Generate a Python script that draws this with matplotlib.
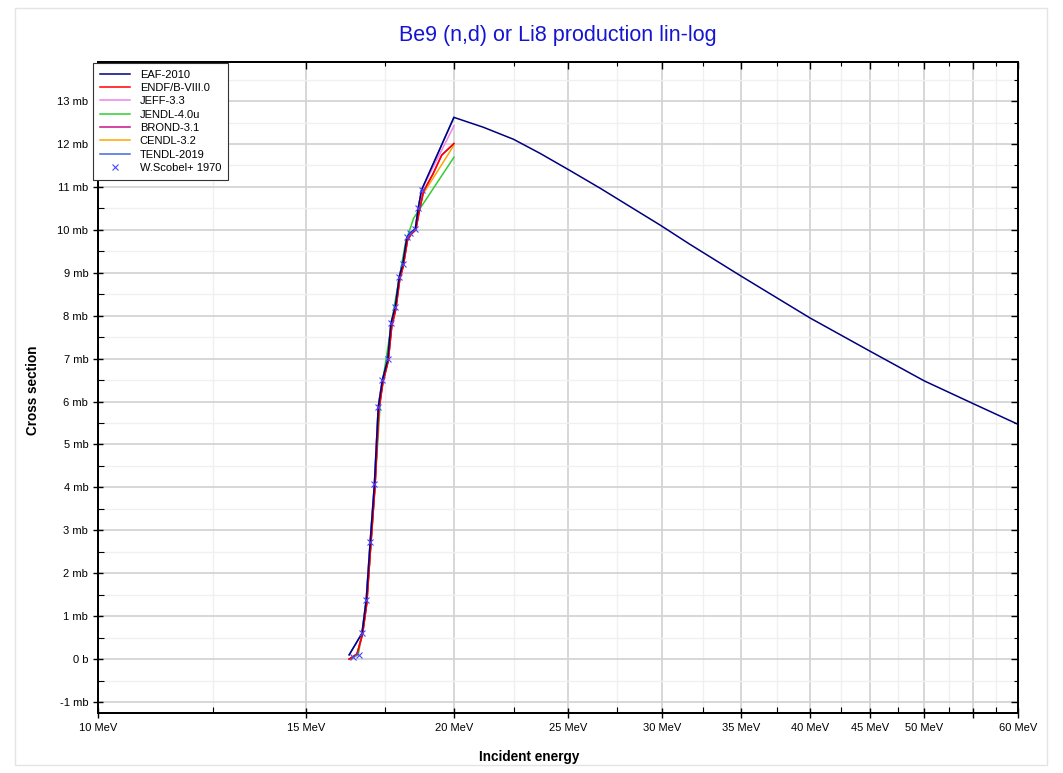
import numpy as np
import matplotlib
matplotlib.use('Agg')
import matplotlib.pyplot as plt
from matplotlib.ticker import FixedLocator, FuncFormatter, MultipleLocator, NullFormatter
from matplotlib.patches import Rectangle

plt.rcParams['font.family'] = ['Liberation Sans', 'DejaVu Sans']

# ---- data (MeV, mb) ----
eaf_e = [16.31, 16.72, 16.86, 16.99, 17.13, 17.26, 17.40, 17.58, 17.69, 17.84, 17.98, 18.10,
         18.25, 18.37, 18.55, 18.66, 18.78, 20.0, 21.18, 22.46, 23.66, 25.08, 26.59, 28.19,
         29.89, 31.64, 35.0, 40.0, 45.0, 50.0, 55.0, 60.0]
eaf_xs = [0.10, 0.60, 1.38, 2.73, 4.07, 5.88, 6.51, 6.98, 7.82, 8.21, 8.91, 9.20,
          9.83, 9.93, 10.02, 10.52, 10.93, 12.62, 12.39, 12.11, 11.78, 11.38, 10.97, 10.54,
          10.11, 9.67, 8.92, 7.95, 7.17, 6.48, 5.95, 5.47]

endf_e = [16.31, 16.56, 16.74, 16.88, 17.01, 17.15, 17.28, 17.42, 17.60, 17.72, 17.86, 18.00,
          18.12, 18.27, 18.40, 18.57, 18.70, 18.85, 19.20, 19.53, 20.0]
endf_xs = [0.0, 0.12, 0.58, 1.30, 2.65, 4.00, 5.80, 6.45, 6.95, 7.75, 8.15, 8.85,
           9.15, 9.75, 9.90, 10.00, 10.45, 10.90, 11.30, 11.74, 12.01]

jeff_e = [16.31, 16.56, 16.72, 16.86, 16.99, 17.13, 17.26, 17.40, 17.58, 17.69, 17.84, 17.98,
          18.10, 18.25, 18.37, 18.55, 18.66, 18.78, 20.0]
jeff_xs = [0.0, 0.10, 0.60, 1.38, 2.73, 4.07, 5.88, 6.51, 6.98, 7.82, 8.21, 8.91,
           9.20, 9.83, 9.93, 10.02, 10.52, 10.93, 12.42]

jendl_e = [16.31, 16.60, 16.75, 16.90, 17.05, 17.20, 17.35, 17.55, 17.80, 18.00, 18.20, 18.49, 20.0]
jendl_xs = [0.0, 0.10, 0.70, 1.60, 3.00, 4.60, 6.20, 7.10, 8.20, 8.95, 9.70, 10.27, 11.69]

brond_e = endf_e
brond_xs = endf_xs

cendl_e = [16.31, 16.56, 16.74, 16.88, 17.01, 17.15, 17.28, 17.42, 17.60, 17.72, 17.86, 18.00,
           18.12, 18.27, 18.40, 18.57, 18.70, 18.85, 20.0]
cendl_xs = [0.0, 0.12, 0.58, 1.30, 2.65, 4.00, 5.80, 6.45, 6.95, 7.75, 8.15, 8.85,
            9.15, 9.75, 9.90, 10.00, 10.45, 10.85, 11.97]

tendl_e = eaf_e[:18]
tendl_xs = eaf_xs[:18]

exp_e = [16.44, 16.61, 16.72, 16.86, 16.99, 17.13, 17.26, 17.40, 17.58, 17.69, 17.84, 17.98,
         18.10, 18.25, 18.37, 18.55, 18.66, 18.78]
exp_xs = [0.04, 0.10, 0.60, 1.38, 2.73, 4.07, 5.88, 6.51, 6.98, 7.82, 8.21, 8.91,
          9.20, 9.83, 9.93, 10.02, 10.52, 10.93]

x_major = [10, 15, 20, 25, 30, 35, 40, 45, 50, 55, 60]
x_labels = ['10 MeV', '15 MeV', '20 MeV', '25 MeV', '30 MeV', '35 MeV', '40 MeV',
            '45 MeV', '50 MeV', '', '60 MeV']
x_minor = [12.5, 17.5, 22.5, 27.5, 32.5, 37.5, 42.5, 47.5, 52.5, 57.5]

fig = plt.figure(figsize=(10.63, 7.73), dpi=100)
fig.patches.append(Rectangle((15 / 1063, 8 / 773), 1032 / 1063, 757 / 773,
                             transform=fig.transFigure, fill=False,
                             edgecolor='#e4e4e4', lw=1))
ax = fig.add_axes([98 / 1063, 60 / 773, 920 / 1063, 651 / 773])

lw = 1.1
ax.plot(tendl_e, tendl_xs, color='#4169e1', lw=lw, label='TENDL-2019', zorder=2)
ax.plot(jeff_e, jeff_xs, color='#ee82ee', lw=lw, label='JEFF-3.3', zorder=2)
ax.plot(jendl_e, jendl_xs, color='#33cc33', lw=lw, label='JENDL-4.0u', zorder=2)
ax.plot(cendl_e, cendl_xs, color='#ffa500', lw=lw, label='CENDL-3.2', zorder=2)
ax.plot(brond_e, brond_xs, color='#c71585', lw=lw, label='BROND-3.1', zorder=2)
ax.plot(endf_e, endf_xs, color='#ff0000', lw=lw, label='ENDF/B-VIII.0', zorder=3)
ax.plot(eaf_e, eaf_xs, color='#00007f', lw=lw, label='EAF-2010', zorder=4)
ax.plot(exp_e, exp_xs, ls='none', marker='x', ms=4.5, mew=0.8, color='#4848ff',
        label='W.Scobel+ 1970', zorder=5)

ax.set_xscale('log')
ax.set_xlim(10, 60)
ax.set_ylim(-1.255, 13.91)

ax.xaxis.set_major_locator(FixedLocator(x_major))
ax.xaxis.set_minor_locator(FixedLocator(x_minor))
ax.set_xticklabels(x_labels)
ax.xaxis.set_minor_formatter(NullFormatter())

ax.yaxis.set_major_locator(MultipleLocator(1))
ax.yaxis.set_minor_locator(MultipleLocator(0.5))
ax.yaxis.set_major_formatter(FuncFormatter(lambda v, p: '0 b' if abs(v) < 1e-9 else '%d mb' % round(v)))

ax.grid(which='major', color='#d4d4d4', lw=1.3)
ax.grid(which='minor', color='#f0f0f0', lw=1.0)
ax.set_axisbelow(True)

ax.tick_params(which='major', direction='inout', length=7, width=1, labelsize=8)
ax.tick_params(which='minor', direction='in', length=4, width=0.8)
for s in ax.spines.values():
    s.set_linewidth(1.2)

# inward ticks on top and right
axt = ax.twiny()
axt.set_xscale('log')
axt.set_xlim(ax.get_xlim())
axt.xaxis.set_major_locator(FixedLocator(x_major))
axt.xaxis.set_minor_locator(FixedLocator(x_minor))
axt.xaxis.set_major_formatter(NullFormatter())
axt.xaxis.set_minor_formatter(NullFormatter())
axt.tick_params(which='major', direction='in', length=5, width=1)
axt.tick_params(which='minor', direction='in', length=3, width=0.8)
axr = ax.twinx()
axr.set_ylim(ax.get_ylim())
axr.yaxis.set_major_locator(MultipleLocator(1))
axr.yaxis.set_minor_locator(MultipleLocator(0.5))
axr.yaxis.set_major_formatter(NullFormatter())
axr.tick_params(which='major', direction='in', length=5, width=1)
axr.tick_params(which='minor', direction='in', length=3, width=0.8)
for a in (axt, axr):
    for s in a.spines.values():
        s.set_linewidth(1.2)

fig.text(558 / 1063, 1 - 35 / 773, 'Be9 (n,d) or Li8 production lin-log', ha='center', va='center',
         fontsize=15.5, color='#1414d2')
fig.text(529 / 1063, 1 - 757 / 773, 'Incident energy', ha='center', va='center',
         fontsize=9.8, fontweight='bold')
fig.text(33 / 1063, 1 - 390 / 773, 'Cross section', ha='center', va='center',
         rotation=90, fontsize=9.8, fontweight='bold')

handles, labels = ax.get_legend_handles_labels()
order = ['EAF-2010', 'ENDF/B-VIII.0', 'JEFF-3.3', 'JENDL-4.0u', 'BROND-3.1',
         'CENDL-3.2', 'TENDL-2019', 'W.Scobel+ 1970']
hmap = dict(zip(labels, handles))
leg = fig.legend([hmap[k] for k in order], order, loc='upper left',
                 bbox_to_anchor=(93 / 1063, 1 - 63 / 773), fontsize=8,
                 frameon=True, fancybox=False, framealpha=1, edgecolor='#333333',
                 handlelength=2.7, handletextpad=0.9, labelspacing=0.3,
                 borderpad=0.6, borderaxespad=0)
leg.get_frame().set_linewidth(0.8)
leg.set_zorder(10)

fig.savefig('out.png', dpi=100)
